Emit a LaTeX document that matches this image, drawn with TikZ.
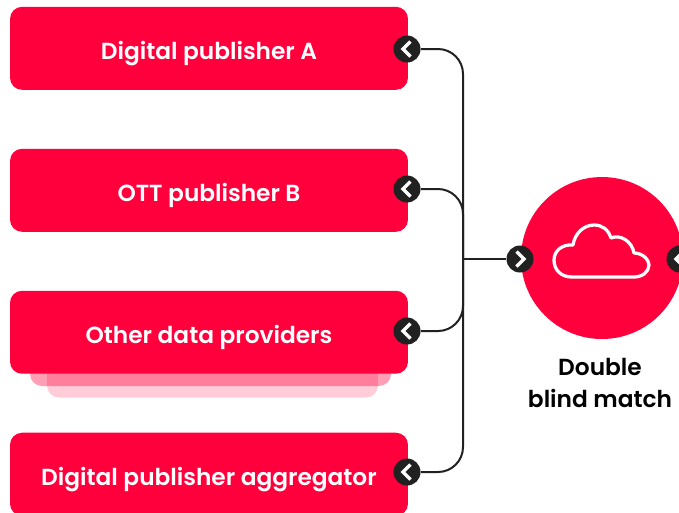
\documentclass[tikz,border=0pt]{standalone}
\usepackage{fontspec}
\setmainfont{Poppins SemiBold}
\usetikzlibrary{positioning}
\definecolor{brandred}{HTML}{FF003C}
\definecolor{badgeblack}{HTML}{212121}

\begin{document}
\begin{tikzpicture}[x=0.02cm, y=-0.02cm, node distance=2.84cm]

        \tikzstyle{srcbox}=[fill=brandred, rounded corners=0.24cm, minimum width=7.96cm, minimum height=1.66cm, inner sep=0pt, text=white, text height=0.54cm, text depth=0.1cm, font=\fontsize{13.25}{16}\selectfont]
        \tikzstyle{stack}=[fill=brandred, rounded corners=0.24cm, minimum height=1.66cm, inner sep=0pt]
        \tikzstyle{wire}=[draw=badgeblack, line width=0.04cm, rounded corners=0.5cm]
        \tikzstyle{badge}=[circle, fill=badgeblack, minimum size=0.54cm, inner sep=0pt]
        \tikzstyle{badgeback}=[badge, path picture={\draw[white, line width=0.065cm] ([shift={(0.07cm,-0.15cm)}]path picture bounding box.center) -- ++(-0.15cm,0.15cm) -- ++(0.15cm,0.15cm);}]
        \tikzstyle{badgefwd}=[badge, path picture={\draw[white, line width=0.065cm] ([shift={(-0.07cm,-0.15cm)}]path picture bounding box.center) -- ++(0.15cm,0.15cm) -- ++(-0.15cm,0.15cm);}]

        \useasboundingbox (0,0) rectangle (679,512);

        \node[srcbox]   (src_1) at (209,48.3) {Digital publisher A};
        \node[srcbox]   (src_2) [below of =src_1] {OTT publisher B};
        \node[stack, fill opacity=0.2, minimum width=6.62cm]   (back_2) at (212.5,356) {};
        \node[stack, fill opacity=0.38, minimum width=7.22cm]   (back_1) at (210.5,344.5) {};
        \node[srcbox]   (src_3) [below of =src_2] {Other data providers};
        \node[srcbox]   (src_4) [below of =src_3] {Digital publisher aggregator};

        \node[circle, fill=brandred, minimum size=3.24cm, inner sep=0pt]   (match) at (602,258) {};
        \node[align=center, font=\fontsize{13.25}{18.2}\selectfont]   (match_text) at (600,383) {Double\\blind match};

        \coordinate (hub) at (463,259);
        \node[badgeback]   (port_1) at (407,49) {};
        \node[badgeback]   (port_2) at (407,189) {};
        \node[badgeback]   (port_3) at (407,331) {};
        \node[badgeback]   (port_4) at (407,472) {};
        \node[badgefwd]   (port_in) at (520,259) {};
        \node[badgeback]   (port_out) at (680,259) {};

        \draw[wire] (port_1) -| (hub);
        \draw[wire] (port_2) -| (hub);
        \draw[wire] (port_3) -| (hub);
        \draw[wire] (port_4) -| (hub);
        \draw[wire] (hub) -- (port_in);

        \draw[white, line width=0.065cm, line join=round] (572,277)
            .. controls (561,277) and (554,270) .. (554,260)
            .. controls (554,251) and (562,244) .. (573,245)
            .. controls (575,232) and (585,225) .. (594,225)
            .. controls (602,225) and (608,229) .. (611,238)
            .. controls (620,234) and (632,241) .. (634,253)
            .. controls (643,253) and (649,260) .. (649,265)
            .. controls (649,272) and (642,277) .. (634,277) -- cycle;

        \end{tikzpicture}
\end{document}
